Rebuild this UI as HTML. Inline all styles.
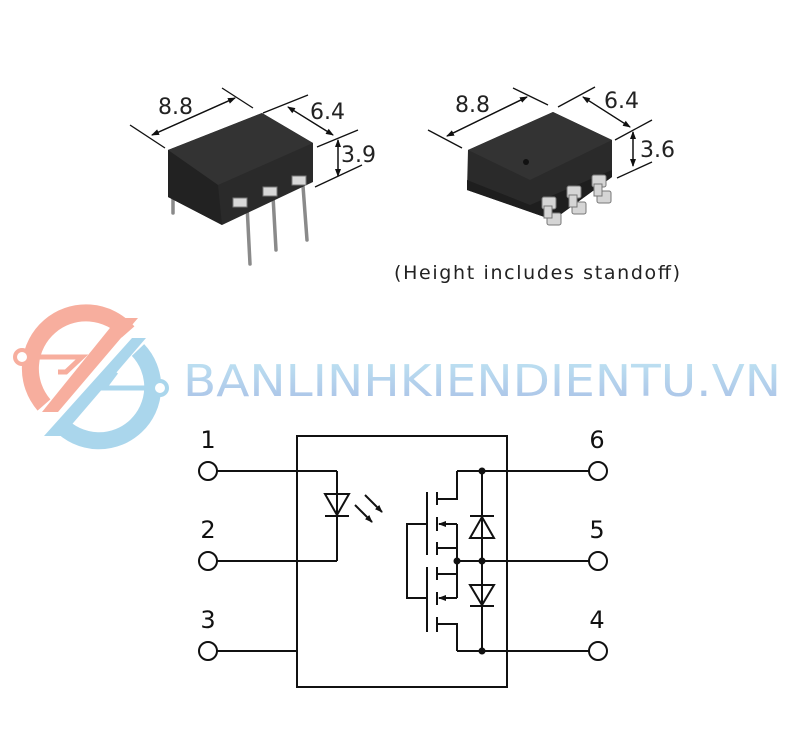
<!DOCTYPE html>
<html><head><meta charset="utf-8"><style>
html,body{margin:0;padding:0;background:#fff;}
svg{display:block;}
text{font-family:"DejaVu Sans","Liberation Sans",sans-serif;}
</style></head><body>
<svg width="800" height="754" viewBox="0 0 800 754" xmlns="http://www.w3.org/2000/svg">
<defs>
<marker id="ar" markerWidth="8" markerHeight="8" refX="7" refY="4" orient="auto" markerUnits="userSpaceOnUse"><path d="M0,1 L8,4 L0,7 Z" fill="#111"/></marker>
<linearGradient id="lg" x1="0" y1="0" x2="0" y2="1"><stop offset="0" stop-color="#bfe4f3"/><stop offset="1" stop-color="#a9c0e6"/></linearGradient>
</defs>

<!-- Package 1 -->
<g stroke="#8a8a8a" stroke-width="3.5" stroke-linecap="round">
<line x1="173" y1="190" x2="173" y2="213"/>
<line x1="247" y1="205" x2="250" y2="264"/>
<line x1="273" y1="196" x2="276" y2="250"/>
<line x1="303" y1="186" x2="307" y2="240"/>
</g>
<polygon points="168,150 262,113 313,143 313,182 222,225 168,197" fill="#2a2a2a"/>
<polygon points="168,150 262,113 313,143 218,185" fill="#333"/>
<polygon points="168,197 222,225 218,185 168,150" fill="#222"/>
<g fill="#d8d8d8" stroke="#777" stroke-width="1">
<rect x="233" y="198" width="14" height="9"/><rect x="263" y="187" width="14" height="9"/><rect x="292" y="176" width="14" height="9"/>
</g>
<g stroke="#111" stroke-width="1.3">
<line x1="130" y1="125" x2="165" y2="148"/><line x1="222" y1="88" x2="253" y2="108"/>
<line x1="152" y1="135" x2="235" y2="98" marker-end="url(#ar)"/><line x1="235" y1="98" x2="152" y2="135" marker-end="url(#ar)"/>
<line x1="263" y1="113" x2="308" y2="95"/><line x1="317" y1="147" x2="358" y2="130"/><line x1="315" y1="187" x2="362" y2="165"/>
<line x1="288" y1="107" x2="333" y2="135" marker-end="url(#ar)"/><line x1="333" y1="135" x2="288" y2="107" marker-end="url(#ar)"/>
<line x1="338" y1="140" x2="338" y2="176" marker-end="url(#ar)"/><line x1="338" y1="176" x2="338" y2="140" marker-end="url(#ar)"/>
</g>
<text x="158" y="114" font-size="22" fill="#222">8.8</text>
<text x="310" y="119" font-size="22" fill="#222">6.4</text>
<text x="341" y="162" font-size="22" fill="#222">3.9</text>

<!-- Package 2 -->
<polygon points="468,150 553,112 612,140 612,177 553,220 467,190" fill="#2a2a2a"/>
<polygon points="468,150 553,112 612,140 530,180" fill="#333"/>
<polygon points="467,190 553,220 612,177 612,170 530,205 467,180" fill="#1e1e1e"/>
<g fill="#d5d5d5" stroke="#777" stroke-width="1">
<rect x="542" y="197" width="14" height="12" rx="2"/><rect x="547" y="213" width="14" height="12" rx="2"/><rect x="544" y="206" width="8" height="12"/>
<rect x="567" y="186" width="14" height="12" rx="2"/><rect x="572" y="202" width="14" height="12" rx="2"/><rect x="569" y="195" width="8" height="12"/>
<rect x="592" y="175" width="14" height="12" rx="2"/><rect x="597" y="191" width="14" height="12" rx="2"/><rect x="594" y="184" width="8" height="12"/>
</g>
<circle cx="526" cy="162" r="3" fill="#111"/>
<g stroke="#111" stroke-width="1.3">
<line x1="428" y1="130" x2="462" y2="148"/><line x1="513" y1="88" x2="548" y2="105"/>
<line x1="447" y1="136" x2="527" y2="97" marker-end="url(#ar)"/><line x1="527" y1="97" x2="447" y2="136" marker-end="url(#ar)"/>
<line x1="558" y1="107" x2="595" y2="87"/><line x1="615" y1="140" x2="652" y2="120"/><line x1="617" y1="178" x2="652" y2="162"/>
<line x1="583" y1="97" x2="630" y2="127" marker-end="url(#ar)"/><line x1="630" y1="127" x2="583" y2="97" marker-end="url(#ar)"/>
<line x1="633" y1="132" x2="633" y2="166" marker-end="url(#ar)"/><line x1="633" y1="166" x2="633" y2="132" marker-end="url(#ar)"/>
</g>
<text x="455" y="112" font-size="22" fill="#222">8.8</text>
<text x="604" y="108" font-size="22" fill="#222">6.4</text>
<text x="640" y="157" font-size="22" fill="#222">3.6</text>
<text x="394" y="279" font-size="19" fill="#222" textLength="286">(Height includes standoff)</text>

<!-- Logo -->
<g fill="none" stroke-width="17">
<path d="M44,405 A52,52 0 0 1 128,332" stroke="#f7ae9e"/>
<path d="M138,350 A52,52 0 0 1 60,424" stroke="#aad6ec"/>
</g>
<polygon points="118,318 138,318 58,412 42,412" fill="#f7ae9e"/>
<polygon points="132,338 146,338 62,436 44,436" fill="#aad6ec"/>
<g stroke-width="5" fill="none">
<path d="M24,357 H82 L66,372 H58" stroke="#f7ae9e"/>
<path d="M158,388 H104 L116,372" stroke="#aad6ec"/>
</g>
<circle cx="22" cy="357" r="7" fill="#fff" stroke="#f7ae9e" stroke-width="4"/>
<circle cx="160" cy="388" r="7" fill="#fff" stroke="#aad6ec" stroke-width="4"/>
<text x="183" y="396" font-size="44" font-family="Liberation Sans" fill="url(#lg)" textLength="598" lengthAdjust="spacingAndGlyphs">BANLINHKIENDIENTU.VN</text>

<!-- Circuit -->
<g stroke="#111" stroke-width="2" fill="none">
<rect x="297" y="436" width="210" height="251"/>
<line x1="217" y1="471" x2="337" y2="471"/>
<line x1="337" y1="471" x2="337" y2="561"/>
<line x1="217" y1="561" x2="337" y2="561"/>
<line x1="217" y1="651" x2="297" y2="651"/>
<polygon points="325,494 349,494 337,515"/>
<line x1="325" y1="516" x2="349" y2="516"/>
<line x1="365" y1="495" x2="382" y2="512" marker-end="url(#ar)"/>
<line x1="355" y1="505" x2="372" y2="522" marker-end="url(#ar)"/>
<line x1="457" y1="471" x2="589" y2="471"/>
<line x1="457" y1="561" x2="589" y2="561"/>
<line x1="457" y1="651" x2="589" y2="651"/>
<line x1="482" y1="471" x2="482" y2="651"/>
<polygon points="470,538 494,538 482,517"/>
<line x1="470" y1="516" x2="494" y2="516"/>
<polygon points="470,585 494,585 482,605"/>
<line x1="470" y1="606" x2="494" y2="606"/>
<polyline points="457,471 457,499 437,499"/>
<line x1="427" y1="492" x2="427" y2="555"/>
<line x1="427" y1="567" x2="427" y2="632"/>
<line x1="437" y1="492" x2="437" y2="505"/>
<line x1="437" y1="517" x2="437" y2="531"/>
<line x1="437" y1="542" x2="437" y2="555"/>
<line x1="437" y1="567" x2="437" y2="580"/>
<line x1="437" y1="592" x2="437" y2="605"/>
<line x1="437" y1="617" x2="437" y2="632"/>
<polyline points="427,524 407,524 407,598 427,598"/>
<line x1="437" y1="548" x2="457" y2="548"/>
<line x1="437" y1="574" x2="457" y2="574"/>
<line x1="457" y1="524" x2="457" y2="598"/>
<line x1="457" y1="524" x2="439" y2="524" marker-end="url(#ar)"/>
<line x1="457" y1="598" x2="439" y2="598" marker-end="url(#ar)"/>
<polyline points="437,624 457,624 457,651"/>
<circle cx="208" cy="471" r="9"/><circle cx="208" cy="561" r="9"/><circle cx="208" cy="651" r="9"/>
<circle cx="598" cy="471" r="9"/><circle cx="598" cy="561" r="9"/><circle cx="598" cy="651" r="9"/>
</g>
<g fill="#111">
<circle cx="482" cy="471" r="3.5"/><circle cx="482" cy="561" r="3.5"/><circle cx="457" cy="561" r="3.5"/><circle cx="482" cy="651" r="3.5"/>
</g>
<g font-size="24" fill="#111" text-anchor="middle">
<text x="208" y="448">1</text><text x="208" y="538">2</text><text x="208" y="628">3</text>
<text x="597" y="448">6</text><text x="597" y="538">5</text><text x="597" y="628">4</text>
</g>
</svg>
</body></html>
